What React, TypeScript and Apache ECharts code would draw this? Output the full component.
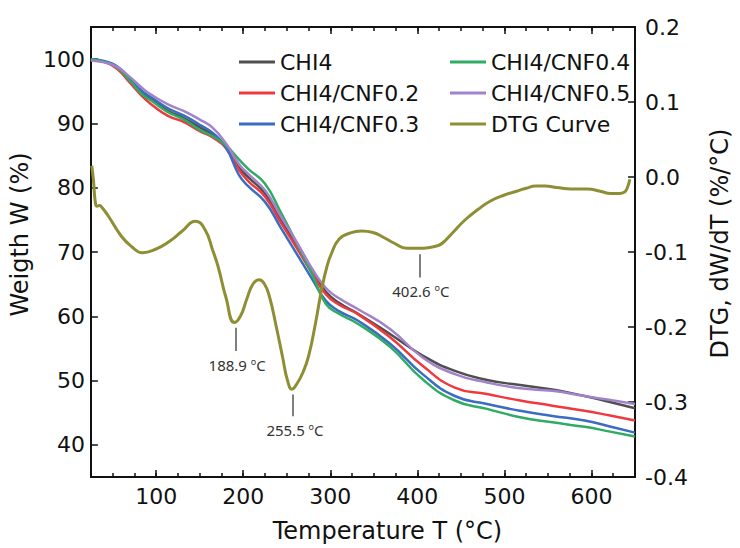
import React, { useEffect, useRef } from 'react';
import * as echarts from 'echarts';

const FONT = "'DejaVu Sans', sans-serif";

// TGA temperatures (°C)
const tgaTemps = [25, 40, 55, 70, 84, 95, 113, 132, 150, 165, 180, 195, 206, 225, 243, 262, 280, 295, 310, 332, 369, 406, 443, 480, 518, 555, 592, 620, 650];
// Weight (%)
const chi4 = [100, 99.6, 98.8, 96.7, 94.7, 93.7, 92.0, 90.8, 89.4, 88.2, 86.4, 83.2, 81.6, 79.1, 75.1, 70.9, 66.8, 63.8, 62.1, 60.4, 57.2, 53.9, 51.5, 50.1, 49.3, 48.6, 47.6, 46.7, 45.7];
const cnf02 = [100, 99.6, 98.5, 96.3, 94.2, 92.9, 91.2, 90.2, 88.8, 87.8, 86.2, 82.8, 81.0, 78.6, 74.6, 70.5, 66.5, 63.4, 61.8, 60.3, 56.7, 52.3, 48.9, 47.9, 46.9, 46.1, 45.3, 44.6, 43.8];
const cnf03 = [100, 99.7, 98.9, 96.9, 95.0, 94.0, 92.4, 91.2, 89.8, 88.5, 86.3, 82.0, 80.2, 77.8, 73.8, 69.6, 65.6, 62.4, 60.8, 59.3, 55.7, 51.0, 47.6, 46.35, 45.3, 44.5, 43.8, 42.9, 41.9];
const cnf04 = [100, 99.6, 98.7, 96.6, 94.5, 93.5, 91.8, 90.6, 89.0, 88.0, 86.6, 84.4, 82.9, 80.6, 76.2, 71.2, 66.3, 61.9, 60.4, 58.8, 55.2, 50.2, 46.9, 45.6, 44.3, 43.5, 42.8, 42.1, 41.3];
const cnf05 = [99.8, 99.5, 98.8, 97.2, 95.5, 94.4, 93.0, 91.9, 90.6, 89.3, 86.9, 83.7, 82.1, 79.6, 75.6, 71.4, 67.2, 64.4, 62.8, 61.1, 58.0, 53.6, 51.0, 49.7, 48.8, 48.4, 47.6, 47.0, 46.35];

// DTG curve
const dtgT = [26, 28, 30, 32, 35, 38, 45, 60, 72, 84, 100, 115, 130, 145, 156, 165, 171, 180, 190, 197, 204, 211, 218, 224, 230, 238, 245, 251, 256, 262, 268, 275, 283, 290, 296, 301, 310, 322, 336, 349, 362, 373, 388, 402, 414, 422, 429, 440, 455, 470, 484, 500, 514, 525, 536, 547, 560, 577, 595, 610, 622, 632, 638, 641, 644];
const dtgD = [0.015, -0.005, -0.033, -0.039, -0.038, -0.041, -0.052, -0.079, -0.093, -0.101, -0.096, -0.086, -0.072, -0.059, -0.070, -0.098, -0.119, -0.160, -0.194, -0.185, -0.163, -0.143, -0.137, -0.142, -0.159, -0.200, -0.239, -0.272, -0.283, -0.275, -0.262, -0.239, -0.195, -0.150, -0.120, -0.103, -0.083, -0.075, -0.072, -0.074, -0.081, -0.088, -0.095, -0.095, -0.094, -0.092, -0.088, -0.075, -0.057, -0.043, -0.032, -0.024, -0.019, -0.015, -0.012, -0.012, -0.014, -0.016, -0.016, -0.019, -0.022, -0.022, -0.020, -0.015, -0.003];

// Peak annotations
const peakLabels = ['188.9', '255.5', '402.6'];
const peakLineT = [191.3, 256.3, 402.8];
const peakLineTop = [-0.201, -0.29, -0.103];
const peakLineBottom = [-0.232, -0.319, -0.134];
const peakLabelT = [193, 259.4, 404];
const peakLabelD = [-0.251, -0.337, -0.152];

const seriesNames = ['CHI4', 'CHI4/CNF0.2', 'CHI4/CNF0.3', 'CHI4/CNF0.4', 'CHI4/CNF0.5'];
const seriesValues = [chi4, cnf02, cnf03, cnf04, cnf05];
const seriesColors = ['#4f4f4f', '#ee3a3f', '#3a6cc2', '#2fab62', '#a283cb'];
const dtgColor = '#8e8f35';

export default function App() {
  const ref = useRef<HTMLDivElement>(null);
  useEffect(() => {
    const chart = echarts.init(ref.current!, null, { renderer: 'svg' });
    const axisColor = '#111';
    const frameLine = { show: true, onZero: false, lineStyle: { color: axisColor, width: 2 } };
    const majorTick = { show: true, inside: true, length: 7, lineStyle: { color: axisColor, width: 1.5 } };
    const minorTickCfg = { show: true, inside: true, length: 4, lineStyle: { color: axisColor, width: 1.5 } };
    const labelStyle = { fontSize: 22, fontFamily: FONT, color: axisColor };
    const nameStyle = { fontSize: 24, fontFamily: FONT, color: axisColor };

    const tgaSeries = seriesNames.map((name, i) => ({
      name,
      type: 'line',
      xAxisIndex: 0,
      yAxisIndex: 0,
      smooth: true,
      symbol: 'none',
      lineStyle: { color: seriesColors[i], width: 2.5 },
      itemStyle: { color: seriesColors[i] },
      data: tgaTemps.map((t, j) => [t, seriesValues[i][j]]),
      z: 2,
    }));

    const legendBase = {
      orient: 'vertical', top: 46,
      icon: 'rect', itemWidth: 36, itemHeight: 3, itemGap: 9,
      selectedMode: false,
      textStyle: { fontSize: 22, fontFamily: FONT, color: axisColor, lineHeight: 22 },
    };

    const option: any = {
      animation: false,
      backgroundColor: '#fff',
      grid: { left: 87, right: 91, top: 27, bottom: 70, containLabel: false },
      legend: [
        { ...legendBase, data: ['CHI4', 'CHI4/CNF0.2', 'CHI4/CNF0.3'], left: 234 },
        { ...legendBase, data: ['CHI4/CNF0.4', 'CHI4/CNF0.5', 'DTG Curve'], left: 445 },
      ],
      xAxis: [
        {
          type: 'value', min: 25, max: 650, splitNumber: 6, position: 'bottom',
          axisLine: frameLine, axisTick: majorTick, splitLine: { show: false },
          axisLabel: { ...labelStyle, margin: 8, formatter: (v: number) => (v % 100 === 0 ? String(v) : '') },
          name: 'Temperature T (°C)', nameLocation: 'middle', nameGap: 42,
          nameTextStyle: { ...nameStyle, padding: [0, 0, 0, 49] },
        },
        {
          type: 'value', min: 25, max: 650, interval: 25, position: 'bottom',
          axisLine: { show: false, onZero: false }, axisTick: minorTickCfg, axisLabel: { show: false }, splitLine: { show: false },
        },
        {
          type: 'value', min: 25, max: 650, splitNumber: 6, position: 'top',
          axisLine: frameLine, axisTick: majorTick, axisLabel: { show: false }, splitLine: { show: false },
        },
        {
          type: 'value', min: 25, max: 650, interval: 25, position: 'top',
          axisLine: { show: false, onZero: false }, axisTick: minorTickCfg, axisLabel: { show: false }, splitLine: { show: false },
        },
      ],
      yAxis: [
        {
          type: 'value', min: 35, max: 105, splitNumber: 7, position: 'left',
          axisLine: frameLine, axisTick: majorTick, splitLine: { show: false },
          axisLabel: { ...labelStyle, margin: 6, formatter: (v: number) => (v % 10 === 0 && v >= 40 && v <= 100 ? String(v) : '') },
          name: 'Weigth W (%)', nameLocation: 'middle', nameRotate: 90, nameGap: 39,
          nameTextStyle: { ...nameStyle, padding: [0, 0, 0, 35] },
        },
        {
          type: 'value', min: -0.4, max: 0.2, interval: 0.1, position: 'right',
          axisLine: frameLine, axisTick: majorTick, splitLine: { show: false },
          axisLabel: { ...labelStyle, margin: 10, formatter: (v: number) => (Math.abs(v) < 1e-9 ? '0.0' : v.toFixed(1)) },
          name: 'DTG, dW/dT (%/°C)', nameLocation: 'middle', nameRotate: 90, nameGap: 73,
          nameTextStyle: { ...nameStyle, padding: [0, 0, 0, 17] },
        },
      ],
      series: [
        ...tgaSeries,
        {
          name: 'DTG Curve',
          type: 'line',
          xAxisIndex: 0,
          yAxisIndex: 1,
          smooth: true,
          symbol: 'none',
          lineStyle: { color: dtgColor, width: 3 },
          itemStyle: { color: dtgColor },
          data: dtgT.map((t, j) => [t, dtgD[j]]),
          z: 3,
          markLine: {
            silent: true,
            symbol: ['none', 'none'],
            lineStyle: { color: '#555', width: 1.5, type: 'solid' },
            label: { show: false },
            emphasis: { disabled: true },
            data: peakLineT.map((t, i) => [
              { coord: [t, peakLineTop[i]] },
              { coord: [t, peakLineBottom[i]] },
            ]),
          },
          markPoint: {
            silent: true,
            symbol: 'rect',
            symbolSize: 1,
            itemStyle: { color: 'rgba(0,0,0,0)' },
            label: {
              show: true,
              position: 'inside',
              formatter: (p: any) => `{n|${p.value} }{o|o}{n|C}`,
              rich: {
                n: { fontSize: 15, fontFamily: "'Noto Sans', sans-serif", color: '#333', lineHeight: 16 },
                o: { fontSize: 9, fontFamily: "'Noto Sans', sans-serif", color: '#333', verticalAlign: 'top', lineHeight: 16 },
              },
            },
            data: peakLabelT.map((t, i) => ({ coord: [t, peakLabelD[i]], value: peakLabels[i] })),
          },
        },
      ],
    };
    chart.setOption(option);
    return () => chart.dispose();
  }, []);
  return (
    <div
      ref={ref}
      style={{ position: 'fixed', left: 0, top: 0, width: 740, height: 548, background: '#fff' }}
    />
  );
}
